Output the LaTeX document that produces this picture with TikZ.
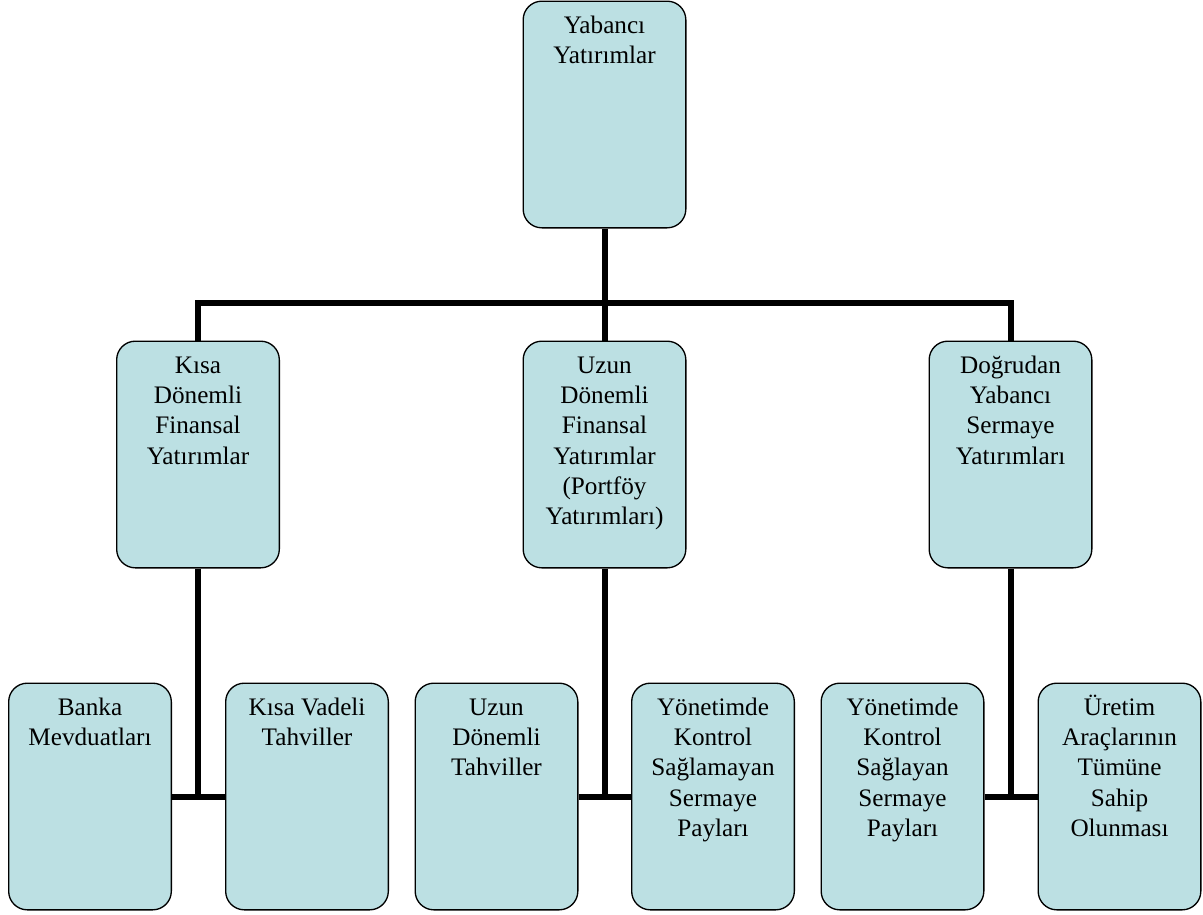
\documentclass[tikz,border=0pt]{standalone}
\usepackage{fontspec}
\setmainfont{Liberation Serif}
\definecolor{boxfill}{RGB}{188,224,227}
\begin{document}
\begin{tikzpicture}[x=0.75pt,y=-0.75pt,
  box/.style={draw=black, line width=1pt, fill=boxfill, rounded corners=14pt,
    minimum width=122pt, minimum height=170pt, inner sep=0pt},
  txt/.style={anchor=north, align=center, inner sep=0pt,
    font=\fontsize{18.9}{22.7}\selectfont},
  conn/.style={line width=4.5pt}]
\useasboundingbox (0,0) rectangle (1203,914);
% boxes
\node[box] (top) at (604.5,114.5) {};
\node[box] (m1) at (198,454.5) {};
\node[box] (m2) at (604.5,454.5) {};
\node[box] (m3) at (1010.5,454.5) {};
\node[box] (b1) at (90,796.5) {};
\node[box] (b2) at (307,796.5) {};
\node[box] (b3) at (496.5,796.5) {};
\node[box] (b4) at (713,796.5) {};
\node[box] (b5) at (902.5,796.5) {};
\node[box] (b6) at (1119.5,796.5) {};
% texts
\node[txt] (ttop) at (604.5,12) {\strut Yabancı\\Yatırımlar};
\node[txt] (tm1) at (198,352) {\strut Kısa\\Dönemli\\Finansal\\Yatırımlar};
\node[txt] (tm2) at (604.5,352) {\strut Uzun\\Dönemli\\Finansal\\Yatırımlar\\(Portföy\\Yatırımları)};
\node[txt] (tm3) at (1010.5,352) {\strut Doğrudan\\Yabancı\\Sermaye\\Yatırımları};
\node[txt] (tb1) at (90,694) {\strut Banka\\Mevduatları};
\node[txt] (tb2) at (307,694) {\strut Kısa Vadeli\\Tahviller};
\node[txt] (tb3) at (496.5,694) {\strut Uzun\\Dönemli\\Tahviller};
\node[txt] (tb4) at (713,694) {\strut Yönetimde\\Kontrol\\Sağlamayan\\Sermaye\\Payları};
\node[txt] (tb5) at (902.5,694) {\strut Yönetimde\\Kontrol\\Sağlayan\\Sermaye\\Payları};
\node[txt] (tb6) at (1119.5,694) {\strut Üretim\\Araçlarının\\Tümüne\\Sahip\\Olunması};
% connectors
\coordinate (bar) at (604.5,303);
\draw[conn] (top.south) -- (top.south |- bar);
\draw[conn] (m1.north) -- (m1.north |- bar) -- (m3.north |- bar) -- (m3.north);
\draw[conn] (m2.north) -- (m2.north |- bar);
\coordinate (j1) at (m1.south |- b1.east);
\coordinate (j2) at (m2.south |- b3.east);
\coordinate (j3) at (m3.south |- b5.east);
\draw[conn] (m1.south) -- (j1);
\draw[conn] (b1.east) -- (b2.west);
\draw[conn] (m2.south) -- (j2);
\draw[conn] (b3.east) -- (b4.west);
\draw[conn] (m3.south) -- (j3);
\draw[conn] (b5.east) -- (b6.west);
\end{tikzpicture}
\end{document}
